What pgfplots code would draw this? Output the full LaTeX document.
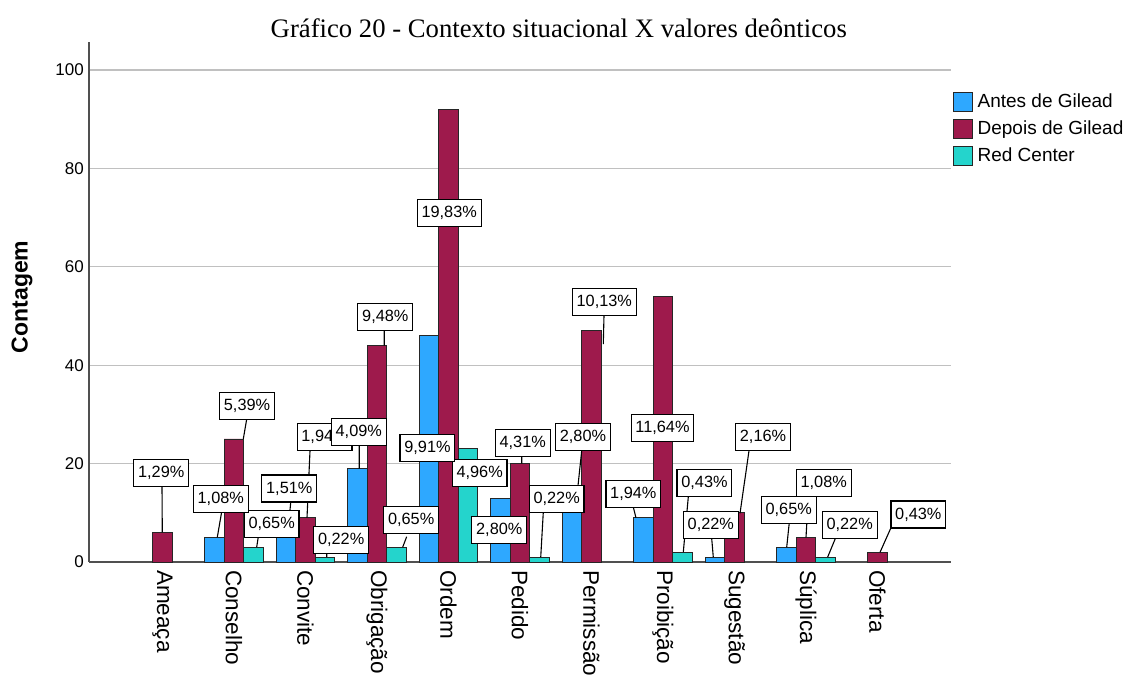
\documentclass[border=0pt]{standalone}
\usepackage{pgfplots}
\pgfplotsset{compat=1.18}
\usepackage{fontspec}
\setmainfont{Liberation Sans}
\newfontfamily\titlefont{Liberation Serif}

\definecolor{antes}{RGB}{46,168,255}
\definecolor{depois}{RGB}{158,26,76}
\definecolor{redc}{RGB}{36,212,204}
\definecolor{gridc}{RGB}{192,192,192}
\definecolor{axisc}{RGB}{80,80,80}

\pgfplotsset{
  bars/.style={ybar, bar width=19.6pt, draw=black!85, line width=0.9pt,
    legend image code/.code={\draw[##1,/tikz/.cd,draw=black!85,line width=0.9pt] (0pt,-9.5pt) rectangle (19pt,9.5pt);}},
  lead/.style={forget plot, mark=none, draw=black, line width=1.1pt, unbounded coords=jump},
  lbl/.style={forget plot, draw=none, mark=none, nodes near coords,
    point meta=explicit symbolic, nodes near coords align={center},
    every node near coord/.style={draw=black, fill=white, text=black, line width=1.2pt,
      inner xsep=4.3pt, inner ysep=0pt, minimum height=27pt,
      font=\fontsize{16.3}{18}\selectfont}},
}

\begin{document}
\begin{tikzpicture}
\useasboundingbox (0,0) rectangle (1129pt,684pt);
\begin{axis}[
  at={(89pt,122pt)}, anchor=south west,
  scale only axis, width=862pt, height=520pt,
  xmin=-1.028, xmax=11.028, ymin=0, ymax=105.69,
  axis x line*=bottom, axis y line*=left,
  axis line style={-, draw=axisc, line width=1.5pt},
  xtick={0,...,10},
  xticklabels={Ameaça,Conselho,Convite,Obrigação,Ordem,Pedido,Permissão,Proibição,Sugestão,Súplica,Oferta},
  ytick={0,20,...,100},
  major tick length=0pt,
  ymajorgrids, major grid style={draw=gridc, line width=1.2pt},
  /pgf/number format/assume math mode=true,
  tick label style={font=\fontsize{17}{20}\selectfont},
  yticklabel style={inner sep=0pt, xshift=-5pt},
  xticklabel style={rotate=-90, anchor=west, inner xsep=10pt, inner ysep=0pt,
    xshift=-2pt, font=\fontsize{22.5}{26}\selectfont},
  ylabel={Contagem},
  ylabel style={at={(axis description cs:-0.0777,0.51)}, anchor=center,
    font=\bfseries\fontsize{23}{27}\selectfont},
  title={Gráfico 20 - Contexto situacional X valores deônticos},
  title style={at={(axis description cs:0.545,0.997)}, anchor=base,
    font=\titlefont\fontsize{26.7}{30}\selectfont},
  legend style={at={(axis description cs:1.002,0.9044)}, anchor=north west,
    draw=none, fill=none, inner sep=0pt, outer sep=0pt,
    row sep=7.5pt, column sep=5pt, font=\fontsize{19}{22}\selectfont,
    nodes={inner sep=0pt, text height=15pt, text depth=4pt}, cells={anchor=west}},
  legend cell align=left,
  clip=false,
]

% bars
\addplot[bars, bar shift=-19.6pt, fill=antes] table {
x y
1 5
2 7
3 19
4 46
5 13
6 13
7 9
8 1
9 3
};
\addplot[bars, bar shift=0pt, fill=depois] table {
x y
0 6
1 25
2 9
3 44
4 92
5 20
6 47
7 54
8 10
9 5
10 2
};
\addplot[bars, bar shift=19.6pt, fill=redc] table {
x y
1 3
2 1
3 3
4 23
5 1
7 2
9 1
};
\legend{Antes de Gilead, Depois de Gilead, Red Center}

% Red Center labels
\addplot[lead] coordinates {
(1.340,5.14) (1.317,3) (nan,nan)
(2.297,1.77) (2.297,1) (nan,nan)
(3.415,5.14) (3.359,3) (nan,nan)
(5.326,10.22) (5.290,1) (nan,nan)
(7.354,13.27) (7.284,2) (nan,nan)
(9.415,4.94) (9.303,1)
};
\addplot[lbl] table[meta=lab] {
x y lab
1.527 7.68 0,65\%
2.499 4.47 0,22\%
3.478 8.48 0,65\%
4.436 18.15 4,96\%
5.513 12.85 0,22\%
7.580 16.00 0,43\%
9.611 7.58 0,22\%
};

% Depois de Gilead labels
\addplot[lead] coordinates {
(-0.007,15.45) (-0.003,6) (nan,nan)
(1.178,29.07) (1.130,25) (nan,nan)
(2.063,22.62) (2.021,9) (nan,nan)
(3.102,47.01) (3.102,44) (nan,nan)
(5.024,21.54) (5.024,20) (nan,nan)
(6.175,50.2) (6.165,44.3) (nan,nan)
(8.203,22.62) (8.077,9.9) (nan,nan)
(9.032,13.27) (9.0,5) (nan,nan)
(10.185,6.85) (10.035,1.97)
};
\addplot[lbl] table[meta=lab] {
x y lab
-0.018 18.15 1,29\%
1.182 31.77 5,39\%
2.266 25.41 1,94\%
3.116 49.74 9,48\%
4.010 70.87 19,83\%
5.038 24.25 4,31\%
6.179 52.91 10,13\%
6.993 27.17 11,64\%
8.399 25.47 2,16\%
9.248 16.00 1,08\%
10.571 9.65 0,43\%
};

% Antes de Gilead labels
\addplot[lead] coordinates {
(0.828,10.23) (0.766,5) (nan,nan)
(1.793,12.05) (1.759,7) (nan,nan)
(2.752,23.78) (2.752,19) (nan,nan)
(5.863,22.62) (5.793,13) (nan,nan)
(6.585,11.12) (6.622,9) (nan,nan)
(7.681,4.82) (7.703,1) (nan,nan)
(8.766,7.99) (8.730,3)
};
\addplot[lbl] table[meta=lab] {
x y lab
0.815 12.85 1,08\%
1.773 14.94 1,51\%
2.745 26.38 4,09\%
3.706 23.11 9,91\%
4.710 6.57 2,80\%
5.881 25.47 2,80\%
6.585 13.82 1,94\%
7.669 7.52 0,22\%
8.758 10.63 0,65\%
};
\end{axis}
\end{tikzpicture}
\end{document}
